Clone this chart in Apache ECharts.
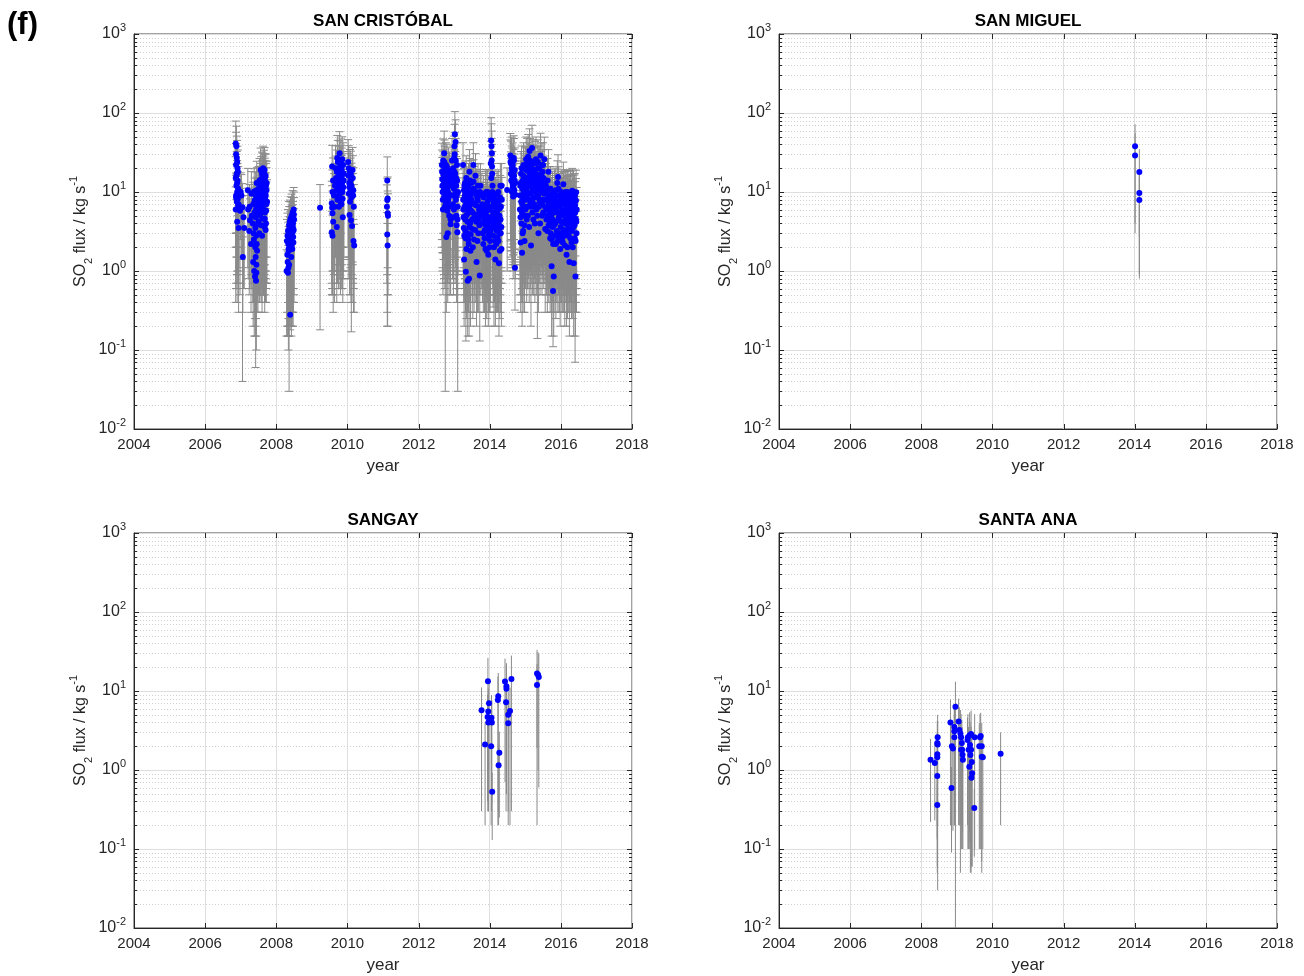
<!DOCTYPE html>
<html><head><meta charset="utf-8">
<script src="https://cdn.jsdelivr.net/npm/echarts@6/dist/echarts.min.js"></script>
<style>html,body{margin:0;padding:0;background:#fff}#c{width:1304px;height:976px}</style>
</head><body><div id="c"></div>
<script>
// ---------------- data (year, SO2 flux kg/s, 1-sigma error kg/s) ----------------
const panelTitles = ['SAN CRISTÓBAL', 'SAN MIGUEL', 'SANGAY', 'SANTA ANA'];
const figureLabel = '(f)';
const xAxisName = 'year';
const xRange = [2004, 2018];
const yRange = [0.01, 1000];

const sanCristobal = [
 [2006.86,41,38],[2006.88,38,30],[2006.90,24,21],[2006.87,22,19],[2006.92,18,16],[2006.89,17,15.5],[2006.86,15,13],[2006.91,14,9],[2006.88,12,10.5],[2006.93,11,10],[2006.90,10,7],[2006.87,9,8.4],[2006.92,8.2,7.5],[2006.89,7.5,6.6],[2006.94,7,6.3],[2006.86,6,5.6],[2006.95,6.5,5.4],[2006.98,5.8,5.3],[2007.00,10,7.5],[2007.02,9,7.6],[2007.05,6.4,6.36],[2007.08,4.8,4.2],[2007.10,3.5,2.9],[2007.06,1.5,1.2],
 [2006.87,30,27],[2006.89,27,24],[2006.91,20,18],[2006.88,16,14],[2006.90,13,12],[2006.92,9.5,8.6],[2006.87,8.5,7.8],[2006.93,6.8,6.2],[2006.90,4.2,3.8],[2006.94,3.5,3.2],
 [2007.20,10.5,9.4],[2007.21,6.0,5.2],[2007.25,6.5,5.9],[2007.26,4.4,3.8],[2007.24,3.2,2.7],[2007.30,9.5,8.6],[2007.31,5.0,4.4],[2007.29,2.2,1.9],
 [2007.35,7.0,6.3],[2007.34,4.0,3.6],[2007.36,3.0,2.6],[2007.35,1.3,1.1],[2007.38,10.2,9.5],[2007.39,5.5,5.2],[2007.37,2.5,2.1],[2007.38,1.0,0.85],[2007.40,0.85,0.6],
 [2007.42,9.0,8.94],[2007.43,6.0,5.5],[2007.41,3.5,3.1],[2007.42,1.5,1.3],[2007.44,0.95,0.8],[2007.43,0.75,0.5],
 [2007.45,13,11.5],[2007.46,8.0,7.4],[2007.47,5.0,4.6],[2007.45,2.2,1.8],[2007.46,1.8,1.5],
 [2007.50,11,10],[2007.51,7.5,6.9],[2007.49,6.0,5.2],[2007.50,4.2,3.7],[2007.52,3.0,2.6],
 [2007.53,14,12.5],[2007.54,9.5,8.8],[2007.53,8.0,7.1],[2007.55,5.2,4.7],
 [2007.56,19,17],[2007.57,12,11],[2007.56,8.5,7.8],[2007.58,6.5,5.9],[2007.57,3.8,3.4],
 [2007.60,17,15],[2007.61,13,12],[2007.60,10,9.2],[2007.62,7.2,6.5],[2007.61,4.6,4.1],[2007.60,2.8,2.5],
 [2007.63,20,18],[2007.64,15,13.5],[2007.63,11.5,10.6],[2007.65,9.0,8.2],[2007.64,6.0,5.5],
 [2007.67,19,17.5],[2007.68,14,12.8],[2007.67,10.5,9.6],[2007.69,8.0,7.3],[2007.68,5.5,5.0],[2007.67,3.6,3.2],
 [2007.70,16,14.5],[2007.71,12,11],[2007.70,9.2,8.5],[2007.72,7.0,6.4],[2007.71,4.0,3.6],[2007.70,3.3,2.9],
 [2007.73,13,11.5],[2007.74,7.5,6.8],
 [2007.395,7.8,7.2],[2007.415,4.8,4.4],[2007.435,2.8,2.5],[2007.455,10.5,9.8],[2007.475,6.8,6.3],[2007.485,3.9,3.6],[2007.505,9,8.4],[2007.525,5.6,5.2],[2007.545,11,10.2],[2007.555,7,6.5],[2007.575,14.5,13.5],[2007.585,9.8,9.1],[2007.595,5.8,5.4],[2007.615,16,15],[2007.625,8.6,8.0],[2007.635,13,12.2],[2007.645,7.6,7.1],[2007.655,17.5,16.3],[2007.665,11.8,11],[2007.675,4.6,4.3],[2007.685,15.5,14.5],[2007.695,8.8,8.2],[2007.705,12.8,12],[2007.715,5.8,5.4],[2007.725,10.5,9.8],[2007.44,1.2,1.1],[2007.41,2.0,1.85],
 [2008.30,2.4,2.1],[2008.31,1.6,1.4],[2008.29,1.0,0.85],[2008.33,3.2,2.8],[2008.34,2.2,1.95],[2008.32,1.3,1.15],[2008.33,0.95,0.8],
 [2008.36,3.8,3.77],[2008.37,2.6,2.3],[2008.35,1.8,1.6],[2008.36,1.2,1.05],[2008.38,4.2,3.7],[2008.39,3.0,2.7],[2008.38,2.0,1.8],[2008.39,0.28,0.1],
 [2008.40,4.6,4.1],[2008.41,3.4,3.1],[2008.40,2.4,2.1],[2008.42,1.5,1.3],[2008.43,5.0,4.4],[2008.44,3.6,3.2],[2008.43,2.8,2.5],[2008.45,1.9,1.7],
 [2008.46,5.5,4.9],[2008.47,4.0,3.6],[2008.46,3.1,2.7],[2008.48,2.3,2.0],[2008.49,6.0,5.4],[2008.50,4.5,4.0],[2008.49,3.3,2.9],
 [2008.315,2.8,2.6],[2008.345,1.9,1.75],[2008.365,3.4,3.15],[2008.385,2.5,2.3],[2008.405,3.9,3.6],[2008.425,2.1,1.95],[2008.445,4.4,4.1],[2008.465,3.6,3.3],[2008.475,2.7,2.5],[2008.495,5.2,4.8],[2008.34,1.1,1.0],
 [2009.23,6.3,6.12],
 [2009.57,21,18],[2009.58,10,9],[2009.56,7.2,6.5],[2009.57,6.3,5.7],[2009.58,5.4,4.9],[2009.56,3.1,2.6],[2009.58,2.8,2.3],[2009.62,9,8.1],[2009.65,12,11],[2009.68,15,13.5],[2009.70,3.6,3.2],[2009.70,18,16],[2009.72,8,7.3],[2009.73,24,21],[2009.74,11,10],[2009.75,14,12.8],[2009.76,6.5,5.9],[2009.77,20,18],[2009.78,31,27],[2009.79,9.5,8.7],[2009.80,16,14.5],[2009.81,12,11],[2009.82,25,22],[2009.83,7,6.4],[2009.84,19,17],[2009.85,13,11.8],[2009.86,10,9.2],[2009.87,4.8,4.4],[2009.88,22,20],[2009.90,17,15.5],
 [2009.595,14,13],[2009.635,6.5,6.1],[2009.665,20,18.5],[2009.695,10.5,9.8],[2009.715,27,25],[2009.735,13.5,12.6],[2009.755,9,8.4],[2009.765,17,15.8],[2009.785,23,21.4],[2009.795,12.8,12],[2009.805,7.5,7],[2009.815,20,18.6],[2009.835,15,14],[2009.855,26,24],[2009.865,8.2,7.6],[2009.885,11.5,10.7],[2009.895,14,13],[2009.60,4.2,3.9],
 [2010.02,24,22],[2010.03,16,14.5],[2010.04,9.5,8.7],[2010.05,13,12],[2010.06,5.1,4.6],[2010.07,18,16.5],[2010.08,10,9.2],[2010.09,14,12.9],[2010.10,4.4,4.0],[2010.11,8.5,8.33],[2010.12,11,10.1],[2010.13,3.7,3.3],[2010.15,15,13.8],[2010.16,9,8.2],[2010.17,2.4,2.1],[2010.19,2.1,1.8],[2010.18,6.5,5.9],
 [2010.035,20,18.6],[2010.055,11.5,10.7],[2010.075,7.5,7],[2010.095,17,15.8],[2010.115,12,11.2],[2010.145,19,17.7],[2010.165,10.5,9.8],
 [2011.12,14,13.8],[2011.13,8.3,7.2],[2011.12,7.9,7.0],[2011.11,6.5,5.8],[2011.13,5.4,4.9],[2011.14,5.0,4.5],[2011.12,2.9,2.6],[2011.13,2.1,1.9],
 [2012.66,18,16],[2012.67,12,11],[2012.68,8,7.3],[2012.69,25,22],[2012.70,15,13.6],[2012.71,10.5,9.6],[2012.72,31,28],[2012.73,20,18],[2012.74,6.5,5.9],[2012.75,13,12.97],[2012.76,9,8.2],[2012.77,22,20],[2012.78,2.7,2.4],[2012.79,16,14.6],[2012.80,11,10],[2012.81,7.5,6.8],[2012.82,3.0,2.6],[2012.83,14,12.8],[2012.84,19,17.3],[2012.85,9.5,8.7],[2012.86,5,4.5],[2012.88,12,11],[2012.90,4.5,4.0],[2012.95,15,13.7],[2012.96,9,8.2],[2012.97,20,18.2],[2012.98,4.8,4.3],[2012.99,11,10],[2013.00,27,24],[2013.01,38,34],[2013.02,54,50],[2013.03,17,15.5],[2013.04,43,39],[2013.05,8,7.3],[2013.06,12,11],[2013.07,3.8,3.4],[2013.08,22,20],[2013.09,3.1,2.7],[2013.10,6.5,6.47],[2013.11,10,9.1],
 [2012.655,22,19.5],[2012.665,14.5,12.8],[2012.675,10,8.9],[2012.685,6,5.5],[2012.695,17,15.3],[2012.705,12.5,10.8],[2012.715,8.5,7.7],[2012.725,24,21.5],[2012.735,16,14.6],[2012.745,11.5,10.1],[2012.755,18,16.2],[2012.765,7,6.3],[2012.775,13.5,11.9],[2012.785,9.8,8.6],[2012.795,21,19.3],[2012.805,5.8,5.1],[2012.815,15,13.4],[2012.825,10,9.1],[2012.835,8,6.9],[2012.845,13,11.8],[2012.855,6.5,5.8],[2012.87,17,15.1],[2012.89,9,8.1],[2012.90,3.9,3.4],[2012.94,25,22.5],[2012.955,12,10.6],[2012.965,7,6.2],[2012.975,16,14.5],[2012.985,14,12.4],[2012.995,6,5.3],[2013.005,18,16.1],[2013.015,30,27],[2013.025,13,11.6],[2013.035,9.5,8.4],[2013.045,25,22.4],[2013.055,15,13.2],[2013.065,5,4.4],[2013.075,9,8.0],[2013.085,14,12.5],[2013.095,4.5,4.0],
 [2013.25,22,20],[2013.26,6,5.4],[2013.27,3.5,3.1],[2013.28,1.4,1.2],[2013.29,12,11],[2013.30,9,8.2],[2013.31,4.5,4.0],[2013.32,2.6,2.3],[2013.33,0.98,0.85],[2013.34,15,13.7],[2013.35,7,6.4],[2013.36,5.2,4.7],[2013.37,3,2.7],[2013.38,0.75,0.6],[2013.39,10,9.1],[2013.40,8,7.3],[2013.41,2.2,1.9],[2013.42,0.8,0.65],[2013.43,18,16.4],[2013.44,6,5.5],[2013.45,4,3.6],[2013.46,1.8,1.6],[2013.48,13,11.9],[2013.50,9.5,8.7],[2013.51,3.4,3.0],[2013.52,5.5,5.0],[2013.54,22,20],[2013.55,11,10],[2013.56,2.5,2.2],[2013.58,7,6.4],[2013.60,16,14.6],[2013.62,4.2,3.8],[2013.63,1.3,1.1],[2013.65,8.5,7.8],[2013.67,12,11],[2013.68,3,2.7],[2013.70,6,5.5],[2013.72,0.88,0.75],[2013.73,10,9.2],[2013.75,5,4.5],
 [2013.255,8,7.1],[2013.265,4.8,4.2],[2013.275,10.5,9.4],[2013.285,2.8,2.4],[2013.295,6.5,5.8],[2013.305,13,11.7],[2013.315,3.2,2.8],[2013.325,7.5,6.7],[2013.335,5,4.5],[2013.345,1.9,1.65],[2013.355,11,9.8],[2013.365,8.5,7.6],[2013.375,4.2,3.7],[2013.385,6,5.4],[2013.395,2.5,2.2],[2013.405,12,10.9],[2013.415,5.5,4.8],[2013.425,3.6,3.2],[2013.435,9,8.1],[2013.445,14,12.6],[2013.455,7,6.1],[2013.465,2.9,2.6],[2013.475,5.8,5.1],[2013.49,8,7.2],[2013.505,4.5,4.0],[2013.515,10.5,9.3],[2013.525,2,1.75],[2013.535,7.2,6.5],[2013.545,13.5,12.1],[2013.565,4.8,4.3],[2013.575,9.5,8.5],[2013.59,3.3,2.9],[2013.61,6.8,6.1],[2013.625,10,9.0],[2013.64,5.2,4.6],[2013.655,2.4,2.1],[2013.665,7.8,7.0],[2013.685,4.5,3.9],[2013.695,9.5,8.6],[2013.71,3.8,3.3],[2013.725,6.5,5.8],[2013.74,12,10.7],
 [2013.78,9,8.2],[2013.80,4,3.6],[2013.82,2.2,1.9],[2013.84,6.5,5.9],[2013.86,3.3,2.9],[2013.88,1.9,1.7],[2013.90,10,9.2],[2013.91,5,4.5],[2013.92,2.6,2.3],[2013.94,7.5,6.9],[2013.95,4.2,3.8],[2013.96,1.6,1.4],[2013.98,3.6,3.2],[2014.00,6,5.5],[2014.01,2.4,2.1],[2014.03,23,21],[2014.04,45,42],[2014.05,38,35],[2014.06,31,28],[2014.07,17,15.5],[2014.08,12,11],[2014.09,8,7.3],[2014.10,5.5,5.0],[2014.11,3.8,3.4],[2014.12,2,1.8],[2014.14,9,8.2],[2014.15,4.6,4.2],[2014.16,1.4,1.2],[2014.18,7,6.4],[2014.20,3.2,2.9],[2014.21,5.8,5.3],[2014.22,2.7,2.4],[2014.24,10,9.1],[2014.25,4,3.6],[2014.26,1.25,1.1],[2014.28,6.2,5.6],[2014.30,12,11],[2014.31,3,2.7],[2014.33,1.9,1.7],[2014.34,8,7.3],
 [2013.775,5.5,4.9],[2013.79,7,6.3],[2013.805,3,2.6],[2013.815,5.2,4.6],[2013.83,8.5,7.7],[2013.845,4.5,4.0],[2013.855,2.6,2.3],[2013.87,6,5.3],[2013.885,9.5,8.6],[2013.895,3.8,3.4],[2013.905,7,6.2],[2013.915,1.8,1.55],[2013.925,5.8,5.2],[2013.935,3.2,2.8],[2013.945,10,9.0],[2013.955,6.2,5.5],[2013.965,2.8,2.5],[2013.975,4.8,4.3],[2013.985,8.5,7.6],[2013.995,2,1.7],[2014.005,4.2,3.7],[2014.015,9,8.2],[2014.025,3.2,2.8],[2014.035,6.5,5.8],[2014.045,15,13.6],[2014.055,25,22.6],[2014.065,21,19.1],[2014.075,10,8.9],[2014.085,5,4.4],[2014.095,2.8,2.45],[2014.105,7.5,6.7],[2014.115,4.5,4.0],[2014.125,6.5,5.8],[2014.135,3.5,3.1],[2014.145,5.5,4.9],[2014.155,2.4,2.1],[2014.165,8,7.2],[2014.175,4.2,3.7],[2014.185,2.2,1.9],[2014.195,5.5,4.9],[2014.205,9.5,8.6],[2014.215,3.8,3.3],[2014.225,7.5,6.7],[2014.235,4.8,4.3],[2014.245,2.4,2.1],[2014.255,6.8,6.1],[2014.265,3.4,3.0],[2014.275,5,4.4],[2014.285,1.8,1.55],[2014.295,8.5,7.7],[2014.305,4.5,4.0],[2014.315,6.5,5.8],[2014.325,3.6,3.2],[2014.335,12,10.9],
 [2014.49,10.6,9.6],[2014.58,29,26],[2014.60,23,21],[2014.62,20,18.2],[2014.63,16,14.6],[2014.64,13,11.8],[2014.65,11.5,10.5],[2014.66,8.8,8.0],[2014.67,18,16.4],[2014.68,25,22.5],[2014.70,14,12.8],[2014.71,1.1,0.78],[2014.72,9.2,8.4],
 [2014.585,24,21.6],[2014.595,17,15.2],[2014.605,14,12.5],[2014.615,26,23.5],[2014.625,10,8.9],[2014.635,19,17],[2014.645,22,19.8],[2014.655,15,13.4],[2014.665,12,10.7],[2014.675,27,24.5],[2014.685,16,14.3],[2014.695,10.5,9.3],[2014.705,19,17.1],[2014.715,13,11.6],
 [2014.85,6,5.5],[2014.86,12,11],[2014.87,2.3,2.0],[2014.88,17,15.5],[2014.89,4,3.6],[2014.90,9,8.2],[2014.91,1.7,1.5],[2014.92,7,6.4],[2014.93,14,12.8],[2014.94,3.2,2.9],[2014.95,22,20],[2014.96,10,9.1],[2014.97,5,4.5],[2014.98,2.4,2.1],[2015.00,15,13.7],[2015.01,8,7.3],[2015.02,19,17.3],[2015.03,11,10],[2015.04,4.5,4.1],[2015.05,25,22.8],[2015.06,6.5,5.9],[2015.07,13,11.8],[2015.08,28,25.5],[2015.09,9.5,8.7],[2015.10,18,16.4],[2015.11,3.6,3.2],[2015.12,33,30],[2015.13,12,11],[2015.14,7,6.4],[2015.15,21,19],[2015.16,2.1,1.9],[2015.17,16,14.6],[2015.18,10,9.1],[2015.19,36,34],[2015.20,5.5,5.0],[2015.22,24,21.8],[2015.23,14,12.8],[2015.24,8.5,7.8],[2015.26,19,17.3],[2015.27,4,3.6],[2015.28,11,10],[2015.30,26,23.7],[2015.31,6,5.5],[2015.32,15,13.7],[2015.34,9,8.86],[2015.36,20,18.2],[2015.37,3,2.7],[2015.39,12,11],[2015.41,7.5,6.8],[2015.43,29,26.4],[2015.45,17,15.5],[2015.47,5,4.5],[2015.48,10,9.1],[2015.50,22,20],[2015.52,8,7.3],[2015.54,13,11.8],[2015.56,3.4,3.1],
 [2014.855,9,8.1],[2014.865,4.8,4.3],[2014.875,13,11.7],[2014.885,7.5,6.7],[2014.895,20,18.2],[2014.905,5.5,4.9],[2014.915,11,9.8],[2014.925,3,2.6],[2014.935,8,7.2],[2014.945,16,14.5],[2014.955,6,5.3],[2014.965,13,11.6],[2014.975,3.8,3.3],[2014.985,9.5,8.5],[2014.995,20,18],[2015.005,6,5.4],[2015.015,12,10.8],[2015.025,26,23.6],[2015.035,8.5,7.6],[2015.045,15,13.5],[2015.055,10,8.9],[2015.065,19,17.2],[2015.075,5,4.4],[2015.085,14,12.6],[2015.095,22,19.9],[2015.105,8,7.1],[2015.115,12,10.8],[2015.125,17,15.4],[2015.135,25,22.7],[2015.145,9.5,8.5],[2015.155,14,12.5],[2015.165,6.5,5.8],[2015.175,20,18.1],[2015.185,13,11.7],[2015.195,8,7.1],[2015.205,17,15.3],[2015.215,11,9.9],[2015.225,4.5,4.0],[2015.235,19,17.2],[2015.245,12,10.7],[2015.255,7,6.2],[2015.265,15,13.5],[2015.275,23,20.8],[2015.285,6.5,5.8],[2015.295,10,9.0],[2015.305,17,15.3],[2015.315,8.5,7.6],[2015.325,12,10.8],[2015.335,5,4.4],[2015.345,14,12.6],[2015.355,24,21.7],[2015.365,9,8.1],[2015.375,16,14.4],[2015.385,6.5,5.8],[2015.395,20,18.1],[2015.405,11,9.8],[2015.415,4,3.5],[2015.425,14,12.6],[2015.435,8,7.1],[2015.445,22,19.8],[2015.455,10,8.9],[2015.465,13,11.7],[2015.475,7,6.2],[2015.485,18,16.3],[2015.495,12,10.8],[2015.505,5.5,4.9],[2015.515,15,13.5],[2015.525,9.5,8.5],[2015.535,26,23.5],[2015.545,11,9.8],[2015.555,6.5,5.8],
 [2015.58,12,11],[2015.60,6,5.5],[2015.62,3.2,2.9],[2015.64,9,8.2],[2015.65,18,16.4],[2015.66,4.5,4.1],[2015.68,7,6.4],[2015.70,2.6,2.3],[2015.71,11,10],[2015.72,5,4.5],[2015.74,1.15,1.0],[2015.75,8,7.3],[2015.76,3.6,3.2],[2015.78,0.56,0.45],[2015.79,6.3,5.7],[2015.80,0.85,0.7],[2015.82,10,9.1],[2015.84,4,3.6],[2015.86,2.2,1.95],[2015.88,7.5,6.8],[2015.90,13,11.8],[2015.92,15.5,14.1],[2015.93,5.5,5.0],[2015.95,3,2.7],[2015.97,9,8.2],[2015.98,1.9,1.7],
 [2016.00,6.8,6.2],[2016.01,10,9.1],[2016.02,4.2,3.8],[2016.03,2.5,2.2],[2016.05,8,7.3],[2016.06,5.2,4.7],[2016.07,12.5,11.4],[2016.08,3.3,3.0],[2016.10,7,6.4],[2016.11,2.1,1.9],[2016.12,9.5,8.7],[2016.14,4.8,4.4],[2016.15,6,5.5],[2016.16,1.6,1.4],[2016.18,10,9.1],[2016.19,3.8,3.4],[2016.20,8.2,7.5],[2016.22,2.8,2.5],[2016.23,5.6,5.1],[2016.24,1.3,1.15],[2016.26,9.8,8.9],[2016.27,4.4,4.0],[2016.28,7.2,6.6],[2016.30,2.3,2.05],[2016.31,6.2,5.6],[2016.32,10.4,9.5],[2016.34,3.5,3.2],[2016.35,5,4.5],[2016.36,1.25,1.1],[2016.38,8.6,7.8],[2016.39,2.6,2.3],[2016.40,6.8,6.73],[2016.41,0.85,0.7],[2016.42,4.6,4.2],[2016.43,9.9,9.0],[2016.44,3,2.7],
 [2015.585,8,7.2],[2015.595,4.5,4.0],[2015.605,10,9.0],[2015.615,6.5,5.8],[2015.625,14,12.6],[2015.635,5,4.4],[2015.645,7.5,6.7],[2015.655,3.8,3.3],[2015.665,11,9.9],[2015.675,5.8,5.2],[2015.685,9,8.1],[2015.695,4.2,3.7],[2015.705,6.5,5.8],[2015.715,3,2.6],[2015.725,8,7.2],[2015.735,5.2,4.6],[2015.745,2.5,2.2],[2015.755,6,5.4],[2015.765,9.5,8.6],[2015.775,4.5,4.0],[2015.785,2.2,1.9],[2015.795,7,6.3],[2015.805,3.8,3.3],[2015.815,5.5,4.9],[2015.825,8.5,7.7],[2015.835,2.8,2.5],[2015.845,6,5.3],[2015.855,10.5,9.5],[2015.865,4.2,3.7],[2015.875,7,6.3],[2015.885,3.2,2.8],[2015.895,9,8.1],[2015.905,5.5,4.9],[2015.915,2.4,2.1],[2015.925,7.5,6.7],[2015.935,11,9.9],[2015.945,4.8,4.3],[2015.955,6.5,5.8],[2015.965,2.6,2.3],[2015.975,5,4.4],[2015.985,8,7.2],[2015.995,3.6,3.2],
 [2016.005,5,4.4],[2016.015,7.8,7.0],[2016.025,3,2.6],[2016.035,9.5,8.6],[2016.045,5.8,5.2],[2016.055,2.3,2.0],[2016.065,7,6.3],[2016.075,4.2,3.7],[2016.085,9.2,8.3],[2016.095,5.2,4.6],[2016.105,2.8,2.5],[2016.115,7.8,7.0],[2016.125,4,3.5],[2016.135,10,9.0],[2016.145,6.2,5.5],[2016.155,3.2,2.8],[2016.165,8.5,7.7],[2016.175,5,4.4],[2016.185,2,1.75],[2016.195,6.8,6.1],[2016.205,9.8,8.9],[2016.215,4.5,4.0],[2016.225,7.2,6.5],[2016.235,3.4,3.0],[2016.245,8.8,7.9],[2016.255,5.5,4.9],[2016.265,2.6,2.3],[2016.275,9.6,8.7],[2016.285,4,3.5],[2016.295,7.5,6.7],[2016.305,3.2,2.8],[2016.315,8.5,7.7],[2016.325,5.2,4.6],[2016.335,2,1.75],[2016.345,7,6.3],[2016.355,10,9.0],[2016.365,4.5,4.0],[2016.375,6,5.4],[2016.385,3.8,3.4],[2016.395,9,8.1],[2016.405,5.5,4.9],[2016.415,2.4,2.1],[2016.425,7.8,7.0],[2016.435,4.2,3.7],[2016.445,6,5.4]
];

const sanMiguel = [
 [2014.01,38,34],[2014.01,29,26],[2014.13,17.9,17],[2014.13,9.7,7],[2014.13,7.9,7.1]
];

const sangay = [
 [2013.77,5.7,5.4],[2013.87,2.1,1.9],[2013.95,13.3,13],[2013.98,7,6.5],[2013.96,5.5,5.2],[2013.94,4.7,4.3],[2013.96,4.0,3.7],[2014.05,4.6,4.3],[2014.06,4.0,3.6],[2014.04,2.0,1.8],[2014.07,0.53,0.4],
 [2014.24,8.6,8.3],[2014.23,7.7,7.5],[2014.27,1.65,1.4],[2014.25,1.15,0.95],[2014.43,13.2,12.5],[2014.47,11.5,11],[2014.47,10.7,10.2],[2014.46,7.2,6.9],[2014.57,5.6,5.4],[2014.52,5.0,4.8],[2014.52,3.9,3.6],[2014.61,14.2,13.9],
 [2015.33,16.7,16.5],[2015.38,15,14.4],[2015.36,16,15],[2015.33,11.9,10]
];

const santaAna = [
 [2008.26,1.35,1.13],[2008.38,1.23,1.0],[2008.45,1.58,1.45],[2008.45,1.45,1.4],[2008.45,2.2,2.0],[2008.46,2.6,2.4],[2008.46,2.1,2.07],[2008.45,0.84,0.7],[2008.45,0.36,0.3],
 [2008.85,0.59,0.5],[2008.82,4.0,3.8],[2008.86,2.0,1.8],[2008.89,1.87,1.7],[2008.96,6.3,6.8],[2008.93,3.5,3.3],[2008.93,3.1,2.9],[2008.93,2.6,2.4],
 [2009.05,4.1,3.9],[2009.07,3.2,3.0],[2009.10,2.9,2.85],[2009.12,2.6,2.5],[2009.14,2.2,2.1],[2009.12,1.8,1.6],[2009.15,1.8,1.7],[2009.16,1.56,1.4],[2009.17,1.35,1.25],
 [2009.30,2.4,2.2],[2009.31,2.6,2.5],[2009.36,2.76,2.6],[2009.40,2.86,2.8],[2009.50,2.6,2.5],[2009.33,1.8,1.7],[2009.37,2.07,1.95],[2009.40,1.8,1.75],[2009.38,1.55,1.5],[2009.42,1.26,1.2],[2009.35,1.1,1.0],[2009.43,0.91,0.85],[2009.41,0.8,0.7],[2009.49,0.33,0.25],
 [2009.65,2.6,2.5],[2009.63,2.0,1.9],[2009.70,2.0,1.95],[2009.73,1.45,1.35],[2009.70,1.47,1.4],[2009.67,2.7,2.6],[2010.23,1.6,1.4]
];

const panelData = [sanCristobal, sanMiguel, sangay, santaAna];
const capHalfWidth = [4, 0, 0, 0];

// ---------------- chart ----------------
const FONT = 'Liberation Sans, Arial, Helvetica, sans-serif';
const TXT = '#262626';
const grids = [
  {left: 134, top: 34, width: 498, height: 395},
  {left: 779, top: 34, width: 498, height: 395},
  {left: 134, top: 533, width: 498, height: 395},
  {left: 779, top: 533, width: 498, height: 395}
];

// axis furniture (minor grid at 2..9 x 10^k, tick marks on all four sides)
const frameRows = [];
for (let k = -2; k <= 3; k++) {
  frameRows.push([xRange[0], Math.pow(10, k), 1]);
  if (k < 3) for (let m = 2; m <= 9; m++) frameRows.push([xRange[0], +(m * Math.pow(10, k)).toPrecision(3), 0]);
}
for (let y = xRange[0]; y <= xRange[1]; y += 2) frameRows.push([y, yRange[0], 2]);

function frameItem(params, api) {
  const kind = api.value(2);
  const st = {stroke: TXT, lineWidth: 1};
  if (kind === 2) {
    const b = api.coord([api.value(0), yRange[0]]);
    const t = api.coord([api.value(0), yRange[1]]);
    const x = Math.round(b[0]) + 0.5;
    return {type: 'group', children: [
      {type: 'line', shape: {x1: x, y1: b[1], x2: x, y2: b[1] - 5}, style: st},
      {type: 'line', shape: {x1: x, y1: t[1], x2: x, y2: t[1] + 5}, style: st}
    ]};
  }
  const l = api.coord([xRange[0], api.value(1)]);
  const r = api.coord([xRange[1], api.value(1)]);
  const y = Math.round(l[1]) + 0.5;
  const len = kind === 1 ? 5 : 3;
  const ch = [];
  if (kind === 0) ch.push({type: 'line', shape: {x1: l[0], y1: y, x2: r[0], y2: y},
    style: {stroke: '#d0d0d0', lineWidth: 1, lineDash: [1, 2]}});
  ch.push({type: 'line', shape: {x1: l[0], y1: y, x2: l[0] + len, y2: y}, style: st});
  ch.push({type: 'line', shape: {x1: r[0], y1: y, x2: r[0] - len, y2: y}, style: st});
  return {type: 'group', children: ch};
}

function errItem(cap) {
  return function (params, api) {
    const x = api.value(0), f = api.value(1), e = api.value(2);
    let lo = f - e, hi = f + e;
    const loOut = lo <= yRange[0];
    if (loOut) lo = yRange[0];
    if (hi > yRange[1]) hi = yRange[1];
    const pH = api.coord([x, hi]);
    const pL = api.coord([x, lo]);
    const st = {stroke: '#8a8a8a', lineWidth: 1};
    const ch = [{type: 'line', shape: {x1: pH[0], y1: pH[1], x2: pL[0], y2: pL[1]}, style: st}];
    if (cap > 0) {
      ch.push({type: 'line', shape: {x1: pH[0] - cap, y1: pH[1], x2: pH[0] + cap, y2: pH[1]}, style: st});
      if (!loOut) ch.push({type: 'line', shape: {x1: pL[0] - cap, y1: pL[1], x2: pL[0] + cap, y2: pL[1]}, style: st});
    }
    return {type: 'group', children: ch};
  };
}

const xAxes = [], yAxes = [], series = [], graphics = [];
grids.forEach((g, i) => {
  xAxes.push({
    gridIndex: i, type: 'value', min: xRange[0], max: xRange[1], interval: 2,
    axisLine: {show: true, lineStyle: {color: TXT, width: 1}},
    axisTick: {show: false},
    splitLine: {show: true, lineStyle: {color: '#dedede', width: 1}},
    axisLabel: {formatter: v => String(v), fontSize: 15, color: TXT, fontFamily: FONT, margin: 8,
                showMinLabel: true, showMaxLabel: true},
    name: xAxisName, nameLocation: 'middle', nameGap: 29,
    nameTextStyle: {fontSize: 17, color: TXT, fontFamily: FONT}
  });
  yAxes.push({
    gridIndex: i, type: 'log', logBase: 10, min: yRange[0], max: yRange[1],
    axisLine: {show: true, lineStyle: {color: TXT, width: 1}},
    axisTick: {show: false},
    splitLine: {show: true, lineStyle: {color: '#dedede', width: 1}},
    axisLabel: {
      margin: 8,
      formatter: v => '{b|10}{s|' + Math.round(Math.log10(v)) + '}',
      rich: {
        b: {fontSize: 16, color: TXT, fontFamily: FONT, lineHeight: 24},
        s: {fontSize: 11, color: TXT, fontFamily: FONT, verticalAlign: 'top'}
      }
    },
    name: '{n|SO}{d|2}{n| flux / kg s}{u|-1}',
    nameLocation: 'middle', nameGap: 40, nameRotate: 90,
    nameTextStyle: {
      rich: {
        n: {fontSize: 16, color: TXT, fontFamily: FONT, lineHeight: 26},
        d: {fontSize: 11, color: TXT, fontFamily: FONT, verticalAlign: 'bottom'},
        u: {fontSize: 11, color: TXT, fontFamily: FONT, verticalAlign: 'top'}
      }
    }
  });
  series.push({
    type: 'custom', xAxisIndex: i, yAxisIndex: i, z: 1, silent: true,
    renderItem: frameItem, data: frameRows
  });
  series.push({
    type: 'custom', xAxisIndex: i, yAxisIndex: i, z: 2, silent: true,
    renderItem: errItem(capHalfWidth[i]), data: panelData[i]
  });
  series.push({
    type: 'scatter', xAxisIndex: i, yAxisIndex: i, z: 3, silent: true,
    symbol: 'circle', symbolSize: 6, large: false,
    itemStyle: {color: '#0000ff', opacity: 1},
    data: panelData[i].map(r => [r[0], r[1]])
  });
  graphics.push({
    type: 'text', x: g.left + g.width / 2, y: g.top - 13,
    style: {text: panelTitles[i], font: 'bold 17px ' + FONT, fill: '#000',
            textAlign: 'center', textVerticalAlign: 'middle'}
  });
});
graphics.push({
  type: 'text', x: 7, y: 25,
  style: {text: figureLabel, font: 'bold 31px ' + FONT, fill: '#000',
          textAlign: 'left', textVerticalAlign: 'middle'}
});

const chart = echarts.init(document.getElementById('c'), null, {renderer: 'canvas'});
chart.setOption({
  animation: false,
  backgroundColor: '#fff',
  grid: grids.map(g => Object.assign({show: true, borderColor: '#444', borderWidth: 1, backgroundColor: 'transparent'}, g)),
  xAxis: xAxes,
  yAxis: yAxes,
  series: series,
  graphic: graphics
});
</script>
</body></html>
